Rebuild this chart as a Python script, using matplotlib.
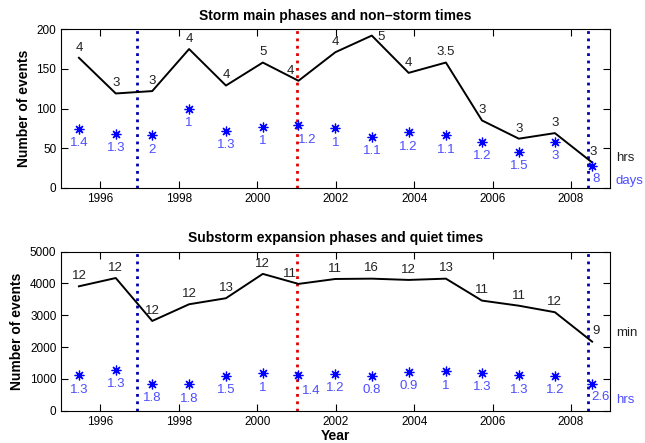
import matplotlib
matplotlib.use("Agg")
import matplotlib.pyplot as plt

plt.rcParams["font.family"] = ["Liberation Sans", "DejaVu Sans"]

# time of each interval (decimal year)
years = [1995.45, 1996.39, 1997.32, 1998.26, 1999.20, 2000.14, 2001.05, 2001.99,
         2002.92, 2003.86, 2004.81, 2005.73, 2006.67, 2007.59, 2008.54]

# storm main phases / non-storm times
storm_events = [164, 119, 122, 175, 129, 158, 135, 171, 192, 145, 158, 85, 62, 69, 32]
storm_dur = ["4", "3", "3", "4", "4", "5", "4", "4", "5", "4", "3.5", "3", "3", "3", "3"]
nonstorm_events = [74, 68, 66, 100, 72, 77, 79, 75, 64, 70, 66, 58, 45, 58, 28]
nonstorm_dur = ["1.4", "1.3", "2", "1", "1.3", "1", "1.2", "1", "1.1", "1.2", "1.1",
                "1.2", "1.5", "3", "8"]

# substorm expansion phases / quiet times
sub_events = [3910, 4170, 2820, 3345, 3535, 4300, 3985, 4140, 4150, 4110, 4150,
              3460, 3300, 3095, 2170]
sub_dur = ["12", "12", "12", "12", "13", "12", "11", "11", "16", "12", "13",
           "11", "11", "12", "9"]
quiet_events = [1110, 1280, 840, 830, 1090, 1175, 1110, 1165, 1100, 1225, 1240,
                1185, 1110, 1100, 840]
quiet_dur = ["1.3", "1.3", "1.8", "1.8", "1.5", "1", "1.4", "1.2", "0.8", "0.9", "1",
             "1.3", "1.3", "1.2", "2.6"]

# vertical markers
blue_lines = [1996.93, 2008.43]
red_lines = [2001.02]

LBLUE = "#4d4dff"
STAR = (8, 2, 0)


def draw_panel(ax, ev, ev_lab, q, q_lab, ylim, yticks, title, unit1, unit2, u1y, u2y,
               ev_shift, q_shift):
    for x in blue_lines:
        ax.axvline(x, color="#0000b0", ls=":", lw=2, zorder=1)
    for x in red_lines:
        ax.axvline(x, color="#e00000", ls=":", lw=2, zorder=1)
    ax.plot(years, ev, color="black", lw=1.4, zorder=3)
    ax.plot(years, q, ls="none", marker=STAR, ms=7, mew=0.9, color="#0000ff", zorder=3)
    for i, (x, y, s) in enumerate(zip(years, ev, ev_lab)):
        dx, dy = ev_shift.get(i, (0, 3))
        ax.annotate(s, (x, y), xytext=(dx, dy), textcoords="offset points",
                    ha="center", va="bottom", fontsize=9.5, color="#222222")
    for i, (x, y, s) in enumerate(zip(years, q, q_lab)):
        dx, dy = q_shift.get(i, (0, -6))
        ax.annotate(s, (x, y), xytext=(dx, dy), textcoords="offset points",
                    ha="center", va="top", fontsize=9.5, color=LBLUE)
    ax.set_xlim(1995, 2009)
    ax.set_ylim(*ylim)
    ax.set_yticks(yticks)
    ax.set_xticks(range(1996, 2009, 2))
    ax.tick_params(direction="in", top=True, right=True, labelsize=8.5, length=5)
    ax.set_ylabel("Number of events", fontsize=10, fontweight="bold")
    ax.set_title(title, fontsize=10, fontweight="bold", pad=7)
    ax.text(1.01, u1y, unit1, transform=ax.transAxes, fontsize=9.5, va="center", color="#222222")
    ax.text(1.01, u2y, unit2, transform=ax.transAxes, fontsize=9.5, va="center", color=LBLUE)


fig = plt.figure(figsize=(6.45, 4.43), dpi=100)
ax1 = fig.add_axes([0.095, 0.576, 0.851, 0.358])
ax2 = fig.add_axes([0.095, 0.073, 0.851, 0.359])

draw_panel(ax1, storm_events, storm_dur, nonstorm_events, nonstorm_dur,
           (0, 200), range(0, 201, 50), "Storm main phases and non\u2013storm times",
           "hrs", "days", 0.19, 0.04,
           ev_shift={6: (-6, 3), 8: (7, -5), 14: (1, 3)},
           q_shift={6: (6, -6), 14: (3, -5)})
draw_panel(ax2, sub_events, sub_dur, quiet_events, quiet_dur,
           (0, 5000), range(0, 5001, 1000), "Substorm expansion phases and quiet times",
           "min", "hrs", 0.49, 0.07,
           ev_shift={6: (-6, 3), 14: (3, 3)},
           q_shift={6: (9, -7), 14: (6, -5)})
ax2.set_xlabel("Year", fontsize=10, fontweight="bold", labelpad=1)

fig.savefig("out.png", dpi=100)
